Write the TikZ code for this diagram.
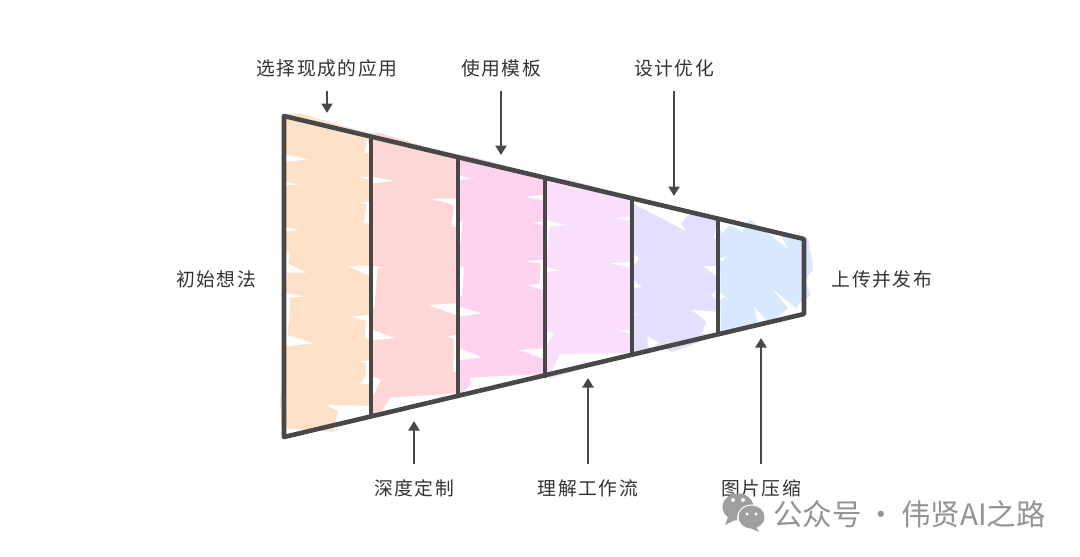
\documentclass[tikz,border=0pt]{standalone}
\usepackage{fontspec}
\setmainfont{Noto Sans CJK SC}
\newfontfamily\lab[LetterSpace=8]{Noto Sans CJK SC}
\newfontfamily\wm{Noto Sans CJK SC}
\usetikzlibrary{arrows.meta}
\definecolor{ink}{HTML}{484848}
\definecolor{txt}{HTML}{333333}
\definecolor{cA}{HTML}{FEE1C8}
\definecolor{cB}{HTML}{FFD6D6}
\definecolor{cC}{HTML}{FFD3F0}
\definecolor{cD}{HTML}{F9DFFB}
\definecolor{cE}{HTML}{E4DFFC}
\definecolor{cF}{HTML}{D8E8FE}
\tikzset{
  labeltext/.style={font=\lab\fontsize{18.8}{20}\selectfont,text=txt,inner sep=0pt,minimum height=46pt,anchor=center},
  sidetext/.style={font=\lab\fontsize{18.8}{20}\selectfont,text=txt,inner sep=0pt},
  arrowline/.style={draw=ink,line width=2.2pt,-{Triangle[length=9.5pt,width=11pt]}},
  edge/.style={draw=ink,line width=4.6pt,line cap=round,line join=round},
  wedge/.style={fill=white,draw=none},
  zoomA/.style={shift={(270,100)},x=0.33333pt,y=-0.33333pt},
  zoomB/.style={shift={(530,160)},x=0.33333pt,y=-0.33333pt},
}
\begin{document}
\begin{tikzpicture}[x=1pt,y=-1pt]
\useasboundingbox (0,0) rectangle (1080,557);
\fill[white] (0,0) rectangle (1080,557);
% fills, zoomA coordinates
\begin{scope}[zoomA]
\fill[cA] (40,42)--(88,40)--(300,100)--(325,98)--(322,120)--(297,125)--(297,950)--(190,995)--(35,985)--(30,905)--(40,800)--(35,150)--cycle;
\fill[wedge] (38,162)--(115,178)--(38,187)--cycle;
\fill[wedge] (38,245)--(85,253)--(38,258)--cycle;
\fill[wedge] (38,380)--(88,390)--(38,395)--cycle;
\fill[wedge] (38,455)--(60,458)--(55,492)--(110,518)--(52,518)--(47,578)--(100,590)--(60,592)--(58,657)--(52,705)--(130,730)--(38,740)--cycle;
\fill[wedge] (300,498)--(230,498)--(300,527)--cycle;
\fill[wedge] (300,645)--(240,650)--(288,662)--(285,715)--(300,715)--cycle;
\fill[wedge] (300,230)--(268,233)--(300,238)--cycle;
\fill[wedge] (300,305)--(268,308)--(290,312)--(282,370)--(300,370)--cycle;
\fill[wedge] (292,115)--(283,160)--(300,160)--cycle;
\fill[wedge] (300,780)--(268,785)--(288,790)--(287,830)--(268,852)--(300,852)--cycle;
\fill[wedge] (170,915)--(205,935)--(190,990)--(300,960)--(300,918)--cycle;
\fill[wedge] (38,985)--(110,992)--(38,1012)--cycle;
%
\fill[cB] (308,110)--(325,98)--(560,168)--(560,890)--(350,945)--(305,945)--cycle;
\fill[wedge] (308,230)--(372,243)--(308,250)--cycle;
\fill[wedge] (308,498)--(335,502)--(322,505)--(314,622)--(308,622)--cycle;
\fill[wedge] (308,690)--(375,715)--(308,720)--cycle;
\fill[wedge] (308,830)--(332,840)--(308,890)--cycle;
\fill[wedge] (330,945)--(360,893)--(560,880)--(560,895)--cycle;
\fill[wedge] (558,295)--(485,297)--(552,315)--(545,380)--(558,380)--cycle;
\fill[wedge] (558,610)--(475,615)--(558,645)--cycle;
\fill[wedge] (558,705)--(530,710)--(552,715)--(550,815)--(558,815)--cycle;
%
\fill[cC] (568,165)--(600,168)--(825,230)--(825,830)--(570,890)--cycle;
\fill[wedge] (570,228)--(605,236)--(570,240)--cycle;
\fill[wedge] (570,365)--(577,365)--(572,430)--(570,430)--cycle;
\fill[wedge] (570,500)--(583,500)--(576,590)--(570,590)--cycle;
\fill[wedge] (570,620)--(635,640)--(570,650)--cycle;
\fill[wedge] (570,745)--(635,772)--(570,780)--cycle;
\fill[wedge] (570,885)--(605,850)--(600,833)--(825,822)--(825,835)--cycle;
\fill[wedge] (818,285)--(767,290)--(818,302)--cycle;
\fill[wedge] (818,365)--(790,368)--(818,375)--cycle;
\fill[wedge] (818,480)--(770,484)--(812,490)--(808,552)--(772,555)--(818,570)--cycle;
\fill[wedge] (818,745)--(750,750)--(818,775)--cycle;
\end{scope}
\begin{scope}[zoomB]
\fill[cD] (45,55)--(130,60)--(305,118)--(305,585)--(60,655)--(45,640)--cycle;
\fill[wedge] (50,180)--(112,196)--(58,200)--(52,290)--(50,290)--cycle;
\fill[wedge] (50,322)--(90,332)--(50,335)--cycle;
\fill[wedge] (50,515)--(72,520)--(50,555)--cycle;
\fill[wedge] (58,650)--(90,582)--(305,578)--(305,590)--cycle;
\fill[wedge] (298,170)--(250,175)--(298,182)--cycle;
\fill[wedge] (298,305)--(242,310)--(298,322)--cycle;
\fill[wedge] (298,510)--(262,512)--(298,520)--cycle;
%
\fill[cE] (308,130)--(470,215)--(452,190)--(490,150)--(570,180)--(575,250)--(590,290)--(565,305)--(565,525)--(430,575)--(420,575)--(400,555)--(310,580)--cycle;
\fill[wedge] (308,280)--(328,295)--(308,320)--cycle;
\fill[wedge] (308,360)--(335,380)--(308,385)--cycle;
\fill[wedge] (308,458)--(318,462)--(308,470)--cycle;
\fill[wedge] (558,205)--(550,236)--(558,236)--cycle;
\fill[wedge] (520,318)--(558,348)--(558,318)--cycle;
\fill[wedge] (543,405)--(556,392)--(556,418)--cycle;
\fill[wedge] (485,450)--(530,485)--(515,522)--(560,520)--(560,455)--cycle;
\fill[wedge] (352,527)--(390,550)--(354,565)--cycle;
%
\fill[cF] (570,225)--(600,195)--(635,215)--(660,178)--(775,268)--(750,222)--(835,235)--(850,330)--(825,360)--(842,405)--(825,420)--(822,462)--(572,520)--cycle;
\fill[wedge] (570,295)--(590,290)--(575,305)--cycle;
\fill[wedge] (570,395)--(585,410)--(570,420)--cycle;
\fill[wedge] (725,385)--(798,445)--(812,425)--(822,430)--(822,470)--(730,480)--(775,445)--cycle;
\fill[wedge] (672,440)--(712,485)--(685,495)--cycle;
\fill[wedge] (570,210)--(600,195)--(570,190)--cycle;
\end{scope}
% funnel
\coordinate (t0) at (284,116); \coordinate (b0) at (284,437);
\coordinate (t1) at (371,138); \coordinate (b1) at (371,416);
\coordinate (t2) at (458,157); \coordinate (b2) at (458,396);
\coordinate (t3) at (545,178); \coordinate (b3) at (545,376);
\coordinate (t4) at (632,199); \coordinate (b4) at (632,355);
\coordinate (t5) at (718,219); \coordinate (b5) at (718,334);
\coordinate (t6) at (804,239); \coordinate (b6) at (804,314);
\draw[edge] (t0)--(t6)--(b6)--(b0)--cycle;
\foreach \i in {1,...,5} \draw[edge] (t\i)--(b\i);
% labels
\node[labeltext] (l1) at (327,68) {选择现成的应用};
\node[labeltext] (l2) at (501,68) {使用模板};
\node[labeltext] (l3) at (674,68) {设计优化};
\node[labeltext,minimum height=48pt] (l4) at (414,488.5) {深度定制};
\node[labeltext,minimum height=48pt] (l5) at (588,488.5) {理解工作流};
\node[labeltext,minimum height=48pt] (l6) at (761,488.5) {图片压缩};
\node[sidetext] (start) at (216,279) {初始想法};
\node[sidetext] (finish) at (882,279) {上传并发布};
\coordinate (a1) at (327,113);
\coordinate (a2) at (501,155);
\coordinate (a3) at (674,196);
\coordinate (a4) at (414,421);
\coordinate (a5) at (588,378);
\coordinate (a6) at (761,338);
\draw[arrowline] (l1)--(a1);
\draw[arrowline] (l2)--(a2);
\draw[arrowline] (l3)--(a3);
\draw[arrowline] (l4)--(a4);
\draw[arrowline] (l5)--(a5);
\draw[arrowline] (l6)--(a6);
% watermark
\fill[gray!75] (738,507) ellipse (15.5pt and 13.5pt);
\fill[gray!75] (728,517)--(725,525)--(735,520)--cycle;
\fill[white] (733,500) circle (2pt) (743,500) circle (2pt);
\fill[white] (752,517.5) ellipse (15pt and 13pt);
\fill[gray!75] (751.5,517) ellipse (13pt and 11.5pt);
\fill[gray!75] (755,525)--(759,532)--(748,527)--cycle;
\fill[white] (747,514) circle (1.6pt) (756,514) circle (1.6pt);
\node[inner sep=0pt,anchor=west,text=gray!85,font=\wm\fontsize{29.5}{32}\selectfont] (mark) at (773,514) {公众号\hspace{5pt}·\hspace{5pt}伟贤AI之路};
\end{tikzpicture}
\end{document}
